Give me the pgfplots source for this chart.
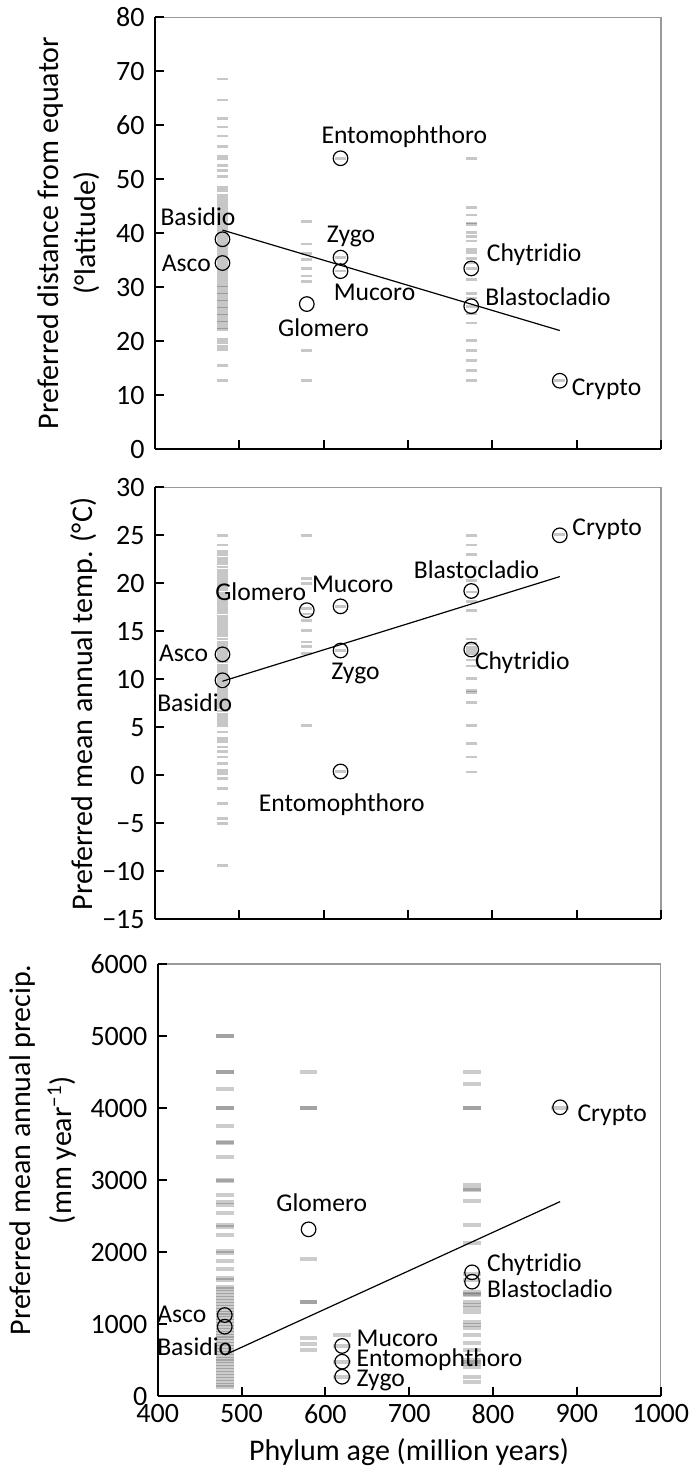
\documentclass[border=0pt]{standalone}
\usepackage{fontspec}
\setmainfont{Carlito}
\usepackage{pgfplots}
\pgfplotsset{compat=1.18}

% 1 px of the reference = 0.5pt here
\pgfplotsset{
  panel/.style={
    scale only axis, width=253pt, height=216pt,
    anchor=south west,
    xmin=400, xmax=1000,
    axis x line*=bottom, axis y line*=left,
    axis line style={-, line width=1pt, black},
    axis on top,
    tick align=inside, major tick length=4.5pt,
    major tick style={line width=1pt, black},
    xtick={500,600,...,1000},
    scaled ticks=false,
    clip=false,
    /pgf/number format/assume math mode=true,
    tick label style={font=\fontsize{14}{14}\selectfont},
    yticklabel style={inner sep=0pt, xshift=-5pt},
    xticklabel style={inner sep=0pt, yshift=-4pt},
  },
  dsh/.style={only marks, mark=-, mark size=2.8pt,
    mark options={line width=1.35pt, draw=black, opacity=0.22}},
  dshw/.style={only marks, mark=-, mark size=4.4pt,
    mark options={line width=2pt, draw=black, opacity=0.2}},
  circ/.style={only marks, mark=o, mark size=3.65pt,
    mark options={line width=0.6pt, draw=black}},
  fitline/.style={black, line width=0.6pt, mark=none},
}
\tikzset{lbl/.style={font=\fontsize{12.8}{12.8}\selectfont, inner sep=0pt},
  boxline/.style={draw=black!40, line width=0.75pt},
  ttl/.style={rotate=90, inner sep=0pt, font=\fontsize{15}{18}\selectfont}}

\begin{document}
\begin{tikzpicture}
\useasboundingbox (0,0) rectangle (344.5pt,-734.5pt);

% ---------------- latitude ----------------
\begin{axis}[panel, at={(77.5pt,-224.65pt)},
  ymin=0, ymax=80, ytick={0,10,...,80},
  yticklabels={0,10,20,30,40,50,60,70,80},
  xticklabels={}]
\addplot[dsh] table[row sep=\\] {x y\\
480 68.6\\ 480 64.7\\ 480 61.2\\ 480 59.7\\ 480 58.0\\ 480 56.1\\ 480 54.3\\ 480 53.8\\
480 52.6\\ 480 51.6\\ 480 50.5\\ 480 48.5\\ 480 47.9\\ 480 47.0\\ 480 46.4\\ 480 46.0\\
480 45.6\\ 480 45.1\\ 480 44.7\\ 480 44.3\\ 480 43.8\\ 480 43.4\\ 480 43.0\\ 480 42.5\\
480 42.1\\ 480 41.7\\ 480 41.2\\ 480 40.8\\ 480 40.4\\ 480 39.9\\ 480 39.5\\ 480 39.1\\
480 38.6\\ 480 38.2\\ 480 37.8\\ 480 37.3\\ 480 36.9\\ 480 36.5\\ 480 36.0\\ 480 35.6\\
480 35.2\\ 480 34.7\\ 480 34.3\\ 480 33.9\\ 480 33.4\\ 480 33.0\\ 480 32.6\\ 480 32.1\\
480 31.7\\ 480 31.3\\ 480 30.8\\ 480 30.4\\ 480 30.0\\ 480 29.5\\ 480 29.1\\ 480 28.7\\
480 28.2\\ 480 27.8\\ 480 27.4\\ 480 26.9\\ 480 26.5\\ 480 26.1\\ 480 25.6\\ 480 25.2\\
480 24.8\\ 480 24.3\\ 480 23.9\\ 480 23.5\\ 480 23.0\\ 480 22.6\\ 480 22.2\\ 480 20.3\\
480 19.8\\ 480 19.0\\ 480 18.5\\ 480 15.5\\ 480 12.7\\
580 42.2\\ 580 38.0\\ 580 36.3\\ 580 35.2\\ 580 33.5\\ 580 32.1\\ 580 31.1\\ 580 18.3\\ 580 12.7\\
620 53.9\\ 620 35.5\\ 620 33.0\\
775 53.8\\ 775 44.8\\ 775 43.4\\ 775 41.9\\ 775 41.6\\ 775 40.1\\ 775 39.4\\ 775 38.6\\
775 37.0\\ 775 36.5\\ 775 35.4\\ 775 34.5\\ 775 33.5\\ 775 31.5\\ 775 28.8\\ 775 28.0\\
775 26.5\\ 775 25.2\\ 775 23.4\\ 775 20.2\\ 775 18.3\\ 775 16.5\\ 775 14.6\\ 775 12.7\\
880 12.7\\
};
\addplot[fitline] coordinates {(480,40.6) (880,22.0)};
\addplot[circ] coordinates {(480,38.9) (480,34.5) (620,53.9) (620,35.5) (620,33.0)
  (580,26.9) (775,33.5) (775,26.5) (880,12.7)};
\draw[boxline] (rel axis cs:0,1) -- (rel axis cs:1,1) -- (rel axis cs:1,0);
\node[lbl] at (axis cs:451,43.0) {Basidio};
\node[lbl, anchor=east] at (axis cs:466.7,34.5) {Asco};
\node[lbl] at (axis cs:695.7,57.9) {Entomophthoro};
\node[lbl] at (axis cs:632.5,39.5) {Zygo};
\node[lbl] at (axis cs:660.3,29.0) {Mucoro};
\node[lbl] at (axis cs:599.9,22.5) {Glomero};
\node[lbl] at (axis cs:849.7,36.1) {Chytridio};
\node[lbl] at (axis cs:866.1,28.2) {Blastocladio};
\node[lbl] at (axis cs:935.4,11.2) {Crypto};
\end{axis}

% ---------------- temperature ----------------
\begin{axis}[panel, at={(77.5pt,-459.65pt)},
  ymin=-15, ymax=30, ytick={-15,-10,...,30},
  yticklabels={−15,−10,−5,0,5,10,15,20,25,30},
  xticklabels={}]
\addplot[dsh] table[row sep=\\] {x y\\
480 25.0\\ 480 24.0\\ 480 23.3\\ 480 23.0\\ 480 22.6\\ 480 22.3\\ 480 22.0\\ 480 21.7\\
480 21.4\\ 480 21.1\\ 480 20.8\\ 480 20.5\\ 480 20.2\\ 480 19.9\\ 480 19.6\\ 480 19.3\\
480 19.0\\ 480 18.7\\ 480 18.4\\ 480 18.1\\ 480 17.8\\ 480 17.5\\ 480 17.2\\ 480 16.9\\
480 16.6\\ 480 16.3\\ 480 16.0\\ 480 15.7\\ 480 15.4\\ 480 15.1\\ 480 14.8\\ 480 14.5\\
480 14.2\\ 480 13.9\\ 480 13.6\\ 480 13.3\\ 480 13.0\\ 480 12.7\\ 480 12.4\\ 480 12.1\\
480 11.8\\ 480 11.5\\ 480 11.2\\ 480 10.9\\ 480 10.6\\ 480 10.3\\ 480 10.0\\ 480 9.7\\
480 9.4\\ 480 9.1\\ 480 8.8\\ 480 8.5\\ 480 8.2\\ 480 7.9\\ 480 7.6\\ 480 7.3\\
480 7.0\\ 480 6.7\\ 480 6.4\\ 480 6.1\\ 480 5.8\\ 480 5.5\\ 480 5.2\\ 480 4.5\\
480 3.8\\ 480 3.5\\ 480 2.95\\ 480 2.5\\ 480 1.9\\ 480 1.2\\ 480 0.5\\ 480 0.2\\
480 -0.3\\ 480 -1.4\\ 480 -2.95\\ 480 -4.5\\ 480 -5.0\\ 480 -9.4\\
580 25.0\\ 580 20.5\\ 580 20.0\\ 580 17.4\\ 580 16.8\\ 580 16.1\\ 580 15.1\\ 580 13.9\\
580 13.4\\ 580 12.7\\ 580 5.2\\
620 17.6\\ 620 13.0\\ 620 0.4\\
775 25.0\\ 775 24.0\\ 775 23.0\\ 775 21.7\\ 775 20.3\\ 775 19.1\\ 775 18.1\\ 775 17.2\\
775 14.2\\ 775 13.7\\ 775 13.3\\ 775 13.0\\ 775 12.7\\ 775 12.0\\ 775 11.4\\ 775 10.1\\
775 8.8\\ 775 8.6\\ 775 7.6\\ 775 5.2\\ 775 3.3\\ 775 1.9\\ 775 0.35\\
880 25.1\\
};
\addplot[fitline] coordinates {(480,9.8) (880,20.7)};
\addplot[circ] coordinates {(880,25.0) (775,19.2) (620,17.6) (580,17.2) (480,12.6)
  (620,13.0) (775,13.1) (480,9.9) (620,0.4)};
\draw[boxline] (rel axis cs:0,1) -- (rel axis cs:1,1) -- (rel axis cs:1,0);
\node[lbl] at (axis cs:936.2,25.6) {Crypto};
\node[lbl] at (axis cs:781.3,21.4) {Blastocladio};
\node[lbl] at (axis cs:634.5,19.9) {Mucoro};
\node[lbl] at (axis cs:525.3,19.1) {Glomero};
\node[lbl, anchor=east] at (axis cs:463.3,12.65) {Asco};
\node[lbl] at (axis cs:637.8,10.6) {Zygo};
\node[lbl] at (axis cs:835.5,11.7) {Chytridio};
\node[lbl] at (axis cs:447.1,7.6) {Basidio};
\node[lbl] at (axis cs:621.5,-3.1) {Entomophthoro};
\end{axis}

% ---------------- precipitation ----------------
\begin{axis}[panel, at={(78.85pt,-698pt)}, width=251.5pt,
  ymin=0, ymax=6000, ytick={0,1000,...,6000},
  yticklabels={0,1000,2000,3000,4000,5000,6000},
  xtick={400,500,...,1000},
  xticklabels={400,500,600,700,800,900,1000}]
\addplot[dshw] table[row sep=\\] {x y\\
480 5000\\ 480 5000\\ 480 4500\\ 480 4500\\ 480 4260\\ 480 4000\\ 480 4000\\ 480 3750\\
480 3530\\ 480 3510\\ 480 3320\\ 480 3000\\ 480 2990\\ 480 2790\\ 480 2700\\ 480 2650\\
480 2540\\ 480 2380\\ 480 2350\\ 480 2240\\ 480 2010\\ 480 1980\\ 480 1870\\ 480 1770\\
480 1640\\ 480 1610\\ 480 1520\\ 480 1480\\ 480 1440\\ 480 1400\\ 480 1360\\ 480 1320\\
480 1280\\ 480 1240\\ 480 1200\\ 480 1160\\ 480 1120\\ 480 1080\\ 480 1040\\ 480 1000\\
480 960\\ 480 920\\ 480 880\\ 480 840\\ 480 800\\ 480 760\\ 480 720\\ 480 680\\
480 640\\ 480 600\\ 480 560\\ 480 520\\ 480 480\\ 480 440\\ 480 400\\ 480 360\\
480 320\\ 480 280\\ 480 240\\ 480 200\\ 480 160\\ 480 130\\
580 4500\\ 580 4000\\ 580 4000\\ 580 1900\\ 580 1310\\ 580 1300\\ 580 800\\ 580 720\\ 580 640\\
620 850\\ 620 695\\ 620 477\\ 620 268\\
775 4500\\ 775 4340\\ 775 4000\\ 775 4000\\ 775 2930\\ 775 2880\\ 775 2860\\ 775 2710\\
775 2380\\ 775 2120\\ 775 1700\\ 775 1610\\ 775 1450\\ 775 1420\\ 775 1400\\ 775 1310\\
775 1260\\ 775 1220\\ 775 1170\\ 775 1030\\ 775 990\\ 775 940\\ 775 850\\ 775 730\\
775 640\\ 775 500\\ 775 470\\ 775 440\\ 775 410\\ 775 270\\ 775 200\\
880 4000\\
};
\addplot[fitline] coordinates {(480,570) (880,2700)};
\addplot[circ] coordinates {(880,4010) (580,2315) (775,1718) (775,1588) (480,1125)
  (480,963) (620,695) (620,477) (620,268)};
\draw[boxline] (rel axis cs:0,1) -- (rel axis cs:1,1) -- (rel axis cs:1,0);
\node[lbl] at (axis cs:942.2,3903) {Crypto};
\node[lbl] at (axis cs:595.8,2690) {Glomero};
\node[lbl, anchor=west] at (axis cs:792.6,1819) {Chytridio};
\node[lbl, anchor=west] at (axis cs:792.6,1496) {Blastocladio};
\node[lbl, anchor=east] at (axis cs:458.5,1139) {Asco};
\node[lbl] at (axis cs:444.2,685) {Basidio};
\node[lbl, anchor=west] at (axis cs:636.9,801) {Mucoro};
\node[lbl, anchor=west] at (axis cs:636.9,509) {Entomophthoro};
\node[lbl, anchor=west] at (axis cs:636.9,215) {Zygo};
\end{axis}

% axis titles
\node[ttl] at (25.5pt,-116.5pt) {Preferred distance from equator};
\node[ttl] at (43.5pt,-116.5pt) {(°latitude)};
\node[ttl] at (42pt,-352pt) {Preferred mean annual temp. (°C)};
\node[ttl] at (11.5pt,-575pt) {Preferred mean annual precip.};
\node[ttl] at (31pt,-575pt) {(mm year\textsuperscript{−1})};
\node[anchor=base, inner sep=0pt, font=\fontsize{15}{18}\selectfont]
  at (204.5pt,-730pt) {Phylum age (million years)};
\end{tikzpicture}
\end{document}
